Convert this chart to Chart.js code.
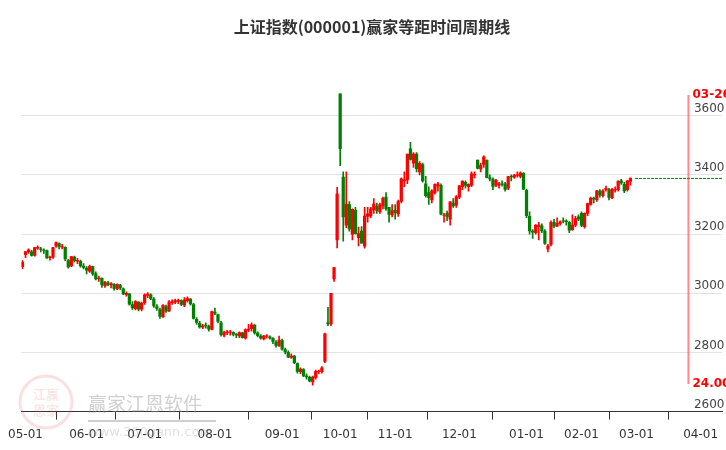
<!DOCTYPE html>
<html><head><meta charset="utf-8">
<script src="https://cdn.jsdelivr.net/npm/chart.js@4.4.1/dist/chart.umd.min.js"></script>
<style>html,body{margin:0;padding:0;background:#fff}canvas{display:block}</style>
</head><body><canvas id="c" width="726" height="450" style="width:726px;height:450px"></canvas>
<script>
const chartTitle = "上证指数(000001)赢家等距时间周期线";
const startDate = "2024-04-30";
const endDate = "2025-04-10";
const holidays = ["2024-05-01","2024-05-02","2024-05-03","2024-06-10","2024-09-16","2024-09-17","2024-10-01","2024-10-02","2024-10-03","2024-10-04","2024-10-07","2025-01-01","2025-01-28","2025-01-29","2025-01-30","2025-01-31","2025-02-03","2025-02-04","2025-04-04"];
const monthTicks = ["2024-05","2024-06","2024-07","2024-08","2024-09","2024-10","2024-11","2024-12","2025-01","2025-02","2025-03","2025-04"];
const cycleDate = "2025-03-26";
const cycleTopLabel = "03-26";
const cycleBottomLabel = "24.00";
const yTicks = [2600,2800,3000,3200,3400,3600];
const cycleTop = 3670, cycleBottom = 2693;

const opens = [3090,
3130,3140,3140,3128,3152,3150,3146,3144,3120,3122,3160,3168,3156,3155,3110,3092,3122,3108,3108,3092,
3085,3075,3090,3066,3048,3050,3025,3035,3028,3030,3015,3028,3015,2995,2998,2962,2948,2970,2946,
2968,2993,2995,2980,2955,2945,2920,2955,2940,2968,2970,2972,2975,2960,2975,2980,2962,2912,2898,2885,2892,2888,2878,
2936,2928,2900,2858,2866,2868,2868,2862,2856,2866,2848,2875,2880,2892,2865,2855,2846,2855,2853,2848,2835,2822,
2840,2810,2800,2783,2788,2762,2735,2742,2720,2716,2700,2715,2735,2735,2770,2900,2896,3048,3180,
3674,3393,3230,3300,3200,3280,3188,3210,3159,3260,3262,3282,3295,3275,3295,3325,3290,3265,
3280,3268,3310,3380,3383,3488,3440,3470,3410,3435,3370,3340,3315,3340,3362,3365,3263,3270,3250,3305,3298,
3325,3360,3375,3360,3365,3400,3450,3420,3435,3450,3390,3385,3365,3365,3370,3370,3355,3395,3392,3398,3395,3405,
3348,3260,3210,3205,3225,3228,3210,3150,3165,3240,3227,3235,3245,3245,3240,3215,3230,3258,
3270,3225,3270,3300,3322,3315,3345,3330,3350,3350,3322,3348,3350,3380,3368,3350,3378];
const highs = [3110,
3142,3150,3145,3155,3160,3155,3150,3146,3126,3155,3174,3170,3165,3157,3115,3125,3126,3118,3112,3100,
3090,3095,3092,3072,3058,3052,3040,3040,3036,3033,3032,3030,3018,3005,3000,2972,2975,2972,2970,
2998,3002,2998,2985,2962,2950,2962,2960,2975,2978,2980,2980,2978,2985,2988,2982,2966,2918,2905,2895,2900,2892,2940,
2950,2930,2905,2872,2875,2875,2870,2864,2870,2868,2880,2895,2900,2894,2870,2860,2858,2860,2856,2850,2840,2855,
2845,2815,2805,2795,2790,2765,2748,2745,2728,2720,2720,2740,2740,2752,2865,2952,3000,3088,3358,
3674,3410,3410,3310,3285,3290,3224,3225,3290,3290,3290,3320,3305,3305,3325,3340,3285,3300,
3300,3315,3390,3410,3470,3510,3475,3475,3445,3440,3395,3360,3350,3370,3375,3370,3270,3278,3310,3320,3330,
3365,3380,3380,3370,3410,3410,3450,3440,3464,3450,3400,3390,3385,3375,3380,3375,3395,3400,3402,3410,3410,3408,
3352,3275,3215,3232,3240,3235,3215,3165,3245,3250,3255,3245,3255,3248,3242,3265,3260,3265,
3275,3272,3305,3325,3325,3348,3350,3350,3362,3355,3355,3360,3380,3385,3375,3382,3390];
const lows = [3083,
3120,3135,3125,3125,3148,3140,3135,3118,3112,3118,3155,3150,3150,3110,3085,3090,3105,3100,3088,3082,
3065,3070,3060,3045,3040,3020,3020,3025,3018,3010,3012,3012,2995,2990,2960,2945,2944,2940,2940,
2962,2985,2978,2952,2942,2915,2918,2935,2938,2962,2965,2965,2958,2955,2970,2960,2912,2895,2882,2880,2882,2872,2876,
2928,2900,2855,2852,2860,2858,2856,2850,2850,2848,2845,2870,2872,2862,2852,2845,2842,2848,2845,2830,2818,2820,
2808,2795,2782,2780,2762,2730,2728,2718,2710,2700,2689,2710,2728,2730,2765,2890,2890,3040,3153,
3431,3176,3222,3210,3180,3200,3160,3169,3152,3240,3255,3270,3270,3270,3285,3280,3240,3258,
3250,3260,3305,3360,3370,3450,3425,3410,3400,3375,3325,3300,3305,3335,3345,3265,3240,3245,3230,3290,3290,
3320,3350,3355,3345,3360,3390,3420,3410,3425,3390,3380,3350,3360,3355,3362,3345,3350,3380,3388,3392,3390,3350,
3255,3200,3185,3200,3180,3205,3165,3140,3160,3222,3225,3230,3238,3230,3205,3212,3225,3245,
3225,3220,3262,3298,3305,3310,3325,3325,3345,3315,3320,3342,3345,3368,3340,3345,3365];
const closes = [3105,
3141,3147,3128,3154,3155,3148,3145,3119,3122,3154,3171,3157,3158,3116,3089,3124,3110,3111,3092,3087,
3078,3091,3065,3048,3051,3028,3037,3029,3033,3016,3030,3018,2998,3000,2963,2950,2972,2946,2967,
2995,2997,2982,2957,2949,2922,2959,2939,2971,2971,2975,2976,2962,2977,2982,2964,2915,2901,2886,2890,2891,2879,2938,
2932,2905,2860,2867,2869,2870,2862,2858,2867,2850,2877,2879,2893,2866,2857,2848,2855,2855,2848,2837,2824,2842,
2811,2802,2784,2788,2765,2736,2744,2721,2717,2704,2717,2736,2736,2748,2863,2896,3000,3087,3336,
3489,3258,3301,3217,3284,3201,3202,3169,3261,3268,3285,3302,3280,3300,3322,3286,3266,3279,
3272,3310,3387,3383,3470,3452,3470,3421,3439,3380,3330,3323,3346,3368,3370,3267,3263,3259,3309,3295,3326,
3363,3379,3364,3368,3404,3402,3422,3432,3461,3391,3386,3361,3382,3370,3368,3351,3394,3393,3399,3400,3407,3352,
3262,3211,3206,3230,3230,3211,3168,3160,3240,3227,3236,3241,3244,3242,3213,3230,3252,3250,
3229,3270,3303,3322,3318,3346,3332,3346,3355,3324,3351,3350,3379,3373,3346,3380,3388];

function fmt(d){return d.getUTCFullYear()+"-"+String(d.getUTCMonth()+1).padStart(2,"0")+"-"+String(d.getUTCDate()).padStart(2,"0");}
const days=[];
for(let d=new Date(startDate+"T00:00:00Z");fmt(d)<=endDate;d.setUTCDate(d.getUTCDate()+1)){
  const w=d.getUTCDay(); const s=fmt(d);
  if(w===0||w===6||holidays.includes(s)) continue; days.push(s);
}
const tickIdx = monthTicks.map(m=>days.findIndex(s=>s.startsWith(m)));
const tickLabel = {}; monthTicks.forEach((m,i)=>tickLabel[tickIdx[i]]=m.slice(5)+"-01");
const N = tickIdx[tickIdx.length-1];
const ppd = (704-19)/N;
const xMin = -1/ppd, xMax = N + 22/ppd;
const cycleIdx = days.indexOf(cycleDate);
const RED="#ff0000", GREEN="#008000";
const col = closes.map((c,i)=> c>=opens[i]?RED:GREEN);
const bodies = closes.map((c,i)=>({x:i,y:[opens[i], Math.abs(c-opens[i])<1.5 ? opens[i]+(c>=opens[i]?1.5:-1.5) : c]}));
const wicks = closes.map((c,i)=>({x:i,y:[lows[i],highs[i]]}));
const last = closes.length-1;

const deco = {
  id:'deco',
  beforeDatasetsDraw(ch){
    const ctx=ch.ctx; ctx.save();
    ctx.strokeStyle="rgba(220,90,90,0.18)"; ctx.lineWidth=3;
    ctx.beginPath(); ctx.arc(46,402,26,0,Math.PI*2); ctx.stroke();
    ctx.fillStyle="rgba(220,90,90,0.15)"; ctx.font="bold 13px 'Noto Sans CJK SC'";
    ctx.textAlign="center"; ctx.fillText("江赢",46,399); ctx.fillText("恩家",46,415);
    ctx.fillStyle="rgba(150,150,150,0.45)"; ctx.textAlign="left";
    ctx.font="19px 'Noto Sans CJK SC'"; ctx.fillText("赢家江恩软件",88,411);
    ctx.fillRect(88,420,128,2);
    ctx.font="13px 'DejaVu Sans'"; ctx.fillStyle="rgba(150,150,150,0.3)"; ctx.fillText("www.360gann.com",88,436);
    ctx.restore();
  },
  afterDatasetsDraw(ch){
    const ctx=ch.ctx, x=ch.scales.x, y=ch.scales.y;
    const px=x.getPixelForValue(cycleIdx);
    ctx.save();
    ctx.strokeStyle="rgba(255,60,60,0.6)"; ctx.lineWidth=2;
    ctx.beginPath(); ctx.moveTo(px,y.getPixelForValue(cycleTop)); ctx.lineTo(px,y.getPixelForValue(cycleBottom)); ctx.stroke();
    ctx.fillStyle=RED; ctx.font="bold 12px 'DejaVu Sans'"; ctx.textBaseline="middle";
    ctx.fillText(cycleTopLabel,px+4,y.getPixelForValue(cycleTop));
    ctx.fillText(cycleBottomLabel,px+4,y.getPixelForValue(cycleBottom));
    ctx.restore();
  }
};

new Chart(document.getElementById('c'),{
  type:'bar',
  data:{datasets:[
    {data:wicks,backgroundColor:col,barThickness:1,grouped:false,order:2},
    {data:bodies,backgroundColor:col,barThickness:2.6,grouped:false,order:1},
    {type:'line',data:[{x:last+1.5,y:closes[last]},{x:xMax,y:closes[last]}],borderColor:GREEN,borderWidth:1,borderDash:[3,1],pointRadius:0,order:0}
  ]},
  options:{
    responsive:false,animation:false,devicePixelRatio:1,
    layout:{padding:{left:18,right:0,top:0,bottom:0}},
    plugins:{legend:{display:false},tooltip:{enabled:false},
      title:{display:true,text:chartTitle,color:"#333",font:{family:"'Noto Sans CJK SC'",size:16,weight:'bold'},padding:{top:17,bottom:23}}},
    scales:{
      x:{type:'linear',min:xMin,max:xMax,offset:false,
        afterBuildTicks:s=>{s.ticks=tickIdx.map(v=>({value:v}));},
        ticks:{callback:v=>tickLabel[v]||"",color:"#333",font:{family:"'DejaVu Sans'",size:12},maxRotation:0,autoSkip:false,padding:8},
        grid:{drawOnChartArea:false,tickLength:8,color:"#333"},border:{color:"#333"}},
      y:{position:'right',min:2600,max:3791,
        afterBuildTicks:s=>{s.ticks=yTicks.map(v=>({value:v}));},
        afterFit:s=>{s.width=0;},
        ticks:{mirror:true,padding:2,labelOffset:-7,autoSkip:false,callback:v=>String(v),color:"#444",font:{family:"'DejaVu Sans'",size:12}},
        grid:{color:"#e3e3e3",drawTicks:false},border:{display:false}}
    }
  },
  plugins:[deco]
});
</script></body></html>
